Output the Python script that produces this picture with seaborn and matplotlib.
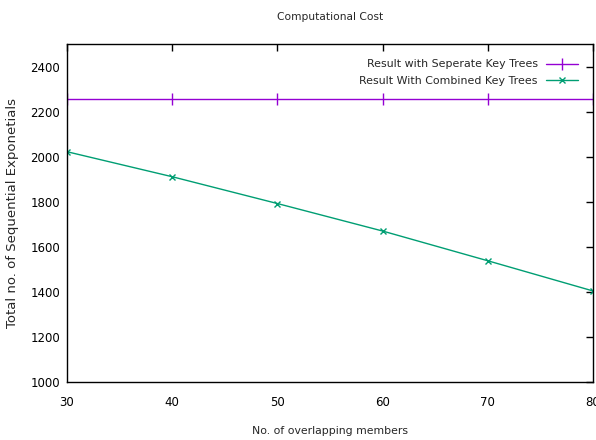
import matplotlib
matplotlib.use("Agg")
import matplotlib.pyplot as plt
import seaborn as sns
import pandas as pd

members = [30, 40, 50, 60, 70, 80]
separate = [2256, 2256, 2256, 2256, 2256, 2256]
combined = [2022, 1911, 1792, 1670, 1538, 1404]
labels = ["Result with Seperate Key Trees", "Result With Combined Key Trees"]
yticks = [1000, 1200, 1400, 1600, 1800, 2000, 2200, 2400]
xticks = [30, 40, 50, 60, 70, 80]

sns.set_style("white")
plt.rcParams['font.family'] = ['DejaVu Sans']
fig = plt.figure(figsize=(5.96, 4.4), dpi=100)
ax = fig.add_axes([0.1124, 0.1318, 0.8826, 0.7682])

c1, c2 = "#9400d3", "#009e73"
df1 = pd.DataFrame({"x": members, "y": separate})
df2 = pd.DataFrame({"x": members, "y": combined})
sns.lineplot(data=df1, x="x", y="y", ax=ax, color=c1, marker="|", markersize=8,
             markeredgewidth=1, markeredgecolor=c1, linewidth=1, label=labels[0])
sns.lineplot(data=df2, x="x", y="y", ax=ax, color=c2, marker="x", markersize=5,
             markeredgewidth=1, markeredgecolor=c2, linewidth=1, label=labels[1])

ax.set_xlim(30, 80)
ax.set_ylim(1000, 2500)
ax.set_xticks(xticks)
ax.set_yticks(yticks)
ax.tick_params(direction="in", length=5, width=1, top=True, right=True, labelsize=8.5,
               colors="black")
ax.tick_params(axis="x", pad=10)
ax.tick_params(axis="y", pad=5)
for s in ax.spines.values():
    s.set_color("black")
    s.set_linewidth(1)
ax.set_title("Computational Cost", fontsize=7.7, pad=17)
ax.set_xlabel("No. of overlapping members", fontsize=7.8, labelpad=12)
ax.set_ylabel("Total no. of Sequential Exponetials", fontsize=9.5, labelpad=8)
leg = ax.legend(loc="upper right", frameon=False, markerfirst=False, fontsize=7.9,
                handlelength=2.9, borderaxespad=1.0, labelspacing=0.6, handletextpad=0.73)
for t in leg.get_texts():
    t.set_ha("right")
fig.savefig("out.png", dpi=100)
